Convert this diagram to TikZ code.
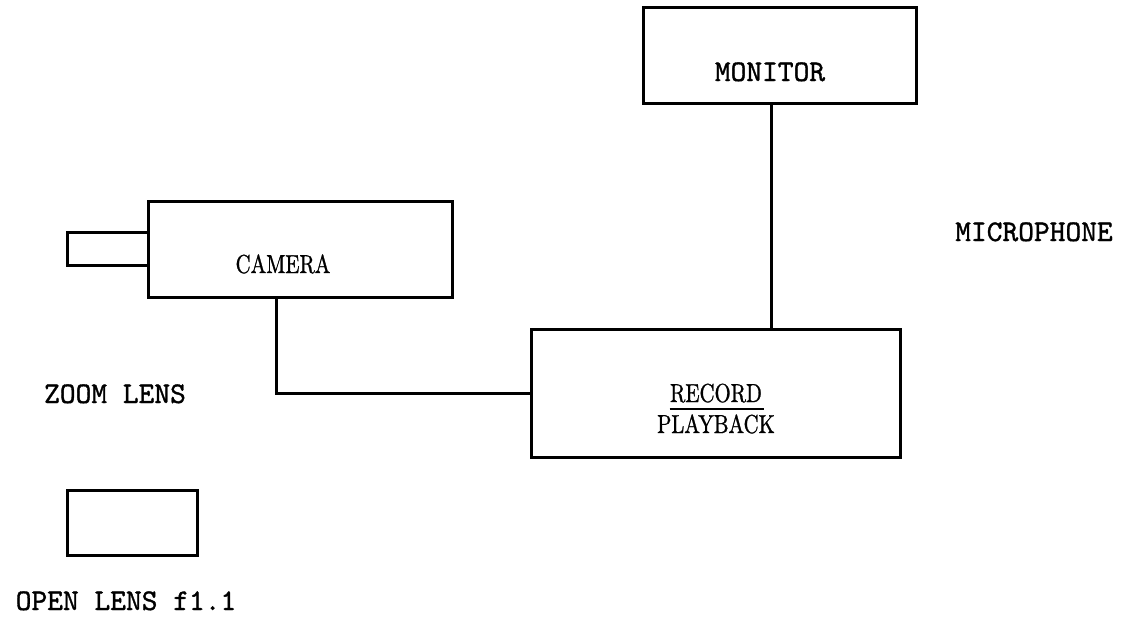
\documentclass[tikz,border=0pt]{standalone}
\usepackage{fontspec}
\usepackage{tikz}
\usetikzlibrary{positioning}
\newfontfamily\boxfont{lmroman10-regular.otf}[FakeStretch=0.8,FakeBold=1]
\newfontfamily\typefont{lmmono10-regular.otf}[FakeBold=1.2]

\begin{document}
\begin{tikzpicture}[
  x=0.5pt,y=-0.5pt,
  box/.style={draw,line width=1.5pt,inner sep=0pt,outer sep=0pt},
  ser/.style={font=\boxfont\fontsize{13}{15.5}\selectfont,inner sep=0pt,anchor=base},
  typ/.style={font=\typefont\fontsize{15}{18}\selectfont,inner sep=0pt,anchor=base},
  wire/.style={line width=1.5pt}
]
\useasboundingbox (0,0) rectangle (1121,637);

% Camera with zoom lens
\node[box,minimum width=152pt,minimum height=48pt] (camera) at (300,249) {};
\node[box,minimum width=40.5pt,minimum height=16.5pt,left=0pt of camera] (lens) {};
\node[ser] (camlabel) at (283,273) {CAMERA};
\node[typ] (zoomlabel) at (115,403) {ZOOM LENS};

% Open lens
\node[box,minimum width=65pt,minimum height=32.5pt] (openlens) at (132,522.5) {};
\node[typ] (openlabel) at (126,610) {OPEN LENS f1.1};

% Monitor and microphone
\node[box,minimum width=136.5pt,minimum height=48pt] (monitor) at (779.5,55) {};
\node[typ] (monlabel) at (770,81) {MONITOR};
\node[typ] (miclabel) at (1034,241) {MICROPHONE};

% Recorder
\node[box,minimum width=184.5pt,minimum height=64pt] (record) at (715.5,393) {};
\node[ser] (reclabel) at (716,402) {RECORD};
\node[ser] (playlabel) at (716,433) {PLAYBACK};
\draw[line width=1.2pt] ([yshift=-3pt]reclabel.south west) -- ([yshift=-3pt,xshift=1pt]reclabel.south east);

% Cables
\coordinate (montap) at (771,0);
\coordinate (camtap) at (276,0);
\draw[wire] (montap |- monitor.south) -- (montap |- record.north);
\draw[wire] (camtap |- camera.south) |- (record.west);
\end{tikzpicture}
\end{document}
